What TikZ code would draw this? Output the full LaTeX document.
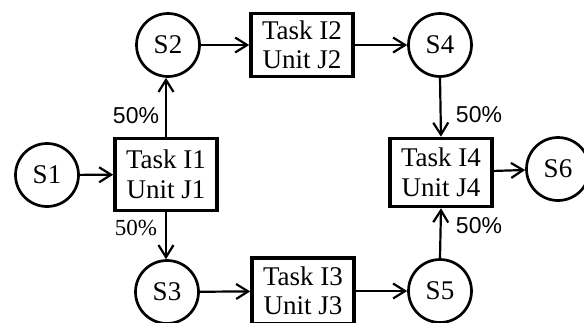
\documentclass[tikz,border=0pt]{standalone}
\usepackage{fontspec}
\setmainfont{Liberation Serif}
\newfontfamily\labelsans{Liberation Sans}
\usetikzlibrary{arrows.meta}
\begin{document}
\begin{tikzpicture}[x=1pt,y=-1pt,
  state/.style={circle,draw,line width=2.7pt,minimum size=63pt,inner sep=0pt,
    font=\fontsize{27}{29}\selectfont},
  task/.style={rectangle,draw,line width=3.6pt,minimum width=102pt,inner sep=0pt,
    align=center,font=\fontsize{27}{29.5}\selectfont},
  flow/.style={line width=2.2pt,-{Straight Barb[length=12pt,width=15pt,line width=2.2pt]}},
  pct/.style={font=\labelsans\fontsize{23}{24}\selectfont,inner sep=0pt},
  pctserif/.style={font=\fontsize{23}{24}\selectfont,inner sep=0pt}]
\useasboundingbox (0,0) rectangle (584,322);
% storage states
\node[state] (s1) at (47,175) {S1};
\node[state] (s2) at (168,45) {S2};
\node[state] (s3) at (167,292) {S3};
\node[state] (s4) at (440,45) {S4};
\node[state] (s5) at (440,291) {S5};
\node[state] (s6) at (558,169) {S6};
% tasks on units
\node[task,minimum height=72pt] (t1) at (166,174.5) {Task I1\\Unit J1};
\node[task,minimum height=63pt] (t2) at (302,45) {Task I2\\Unit J2};
\node[task,minimum height=66pt] (t3) at (303,291) {Task I3\\Unit J3};
\node[task,minimum height=68pt] (t4) at (441,172.5) {Task I4\\Unit J4};
% material flows
\draw[flow] (s1) -- (t1);
\draw[flow] (t1.north) -- (t1.north |- s2.south);
\draw[flow] (t1.south) -- (t1.south |- s3.north);
\draw[flow] (s2) -- (t2);
\draw[flow] (t2) -- (s4);
\draw[flow] (s3) -- (t3);
\draw[flow] (t3) -- (s5);
\draw[flow] (s4.south) -- (t4.north);
\draw[flow] (s5.north) -- (t4.south);
\draw[flow] (t4) -- (s6);
% split fractions
\node[pct] (p1) at (136,116) {50\%};
\node[pctserif] (p2) at (136,228) {50\%};
\node[pct] (p3) at (479,115) {50\%};
\node[pct] (p4) at (479,226) {50\%};
\end{tikzpicture}
\end{document}
